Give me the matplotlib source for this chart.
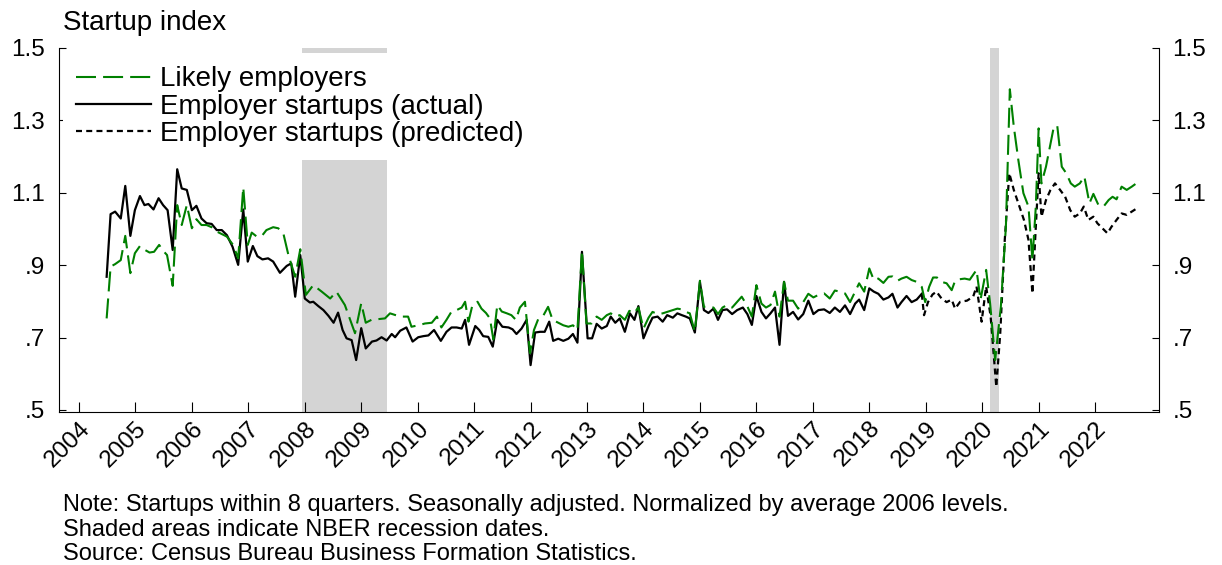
import matplotlib
matplotlib.use('Agg')
import matplotlib.pyplot as plt

plt.rcParams['font.family'] = ['Liberation Sans', 'DejaVu Sans']

# ---------------- data ----------------
likely_years = [
    2004.49, 2004.56, 2004.64, 2004.74, 2004.82, 2004.91, 2004.99, 2005.08, 2005.17, 2005.25,
    2005.33, 2005.42, 2005.49, 2005.56, 2005.66, 2005.74, 2005.82, 2005.91, 2006.00, 2006.08,
    2006.17, 2006.26, 2006.35, 2006.44, 2006.53, 2006.62, 2006.73, 2006.82, 2006.91, 2006.99,
    2007.06, 2007.15, 2007.24, 2007.32, 2007.44, 2007.53, 2007.62, 2007.71, 2007.83, 2007.92,
    2008.02, 2008.15, 2008.30, 2008.45, 2008.56, 2008.71, 2008.89, 2009.00, 2009.08, 2009.18,
    2009.42, 2009.51, 2009.69, 2009.83, 2009.89, 2010.01, 2010.13, 2010.25, 2010.34, 2010.42,
    2010.51, 2010.60, 2010.69, 2010.78, 2010.84, 2010.90, 2010.97, 2011.06, 2011.13, 2011.21,
    2011.28, 2011.34, 2011.41, 2011.49, 2011.58, 2011.66, 2011.74, 2011.81, 2011.90, 2011.99,
    2012.06, 2012.14, 2012.23, 2012.31, 2012.39, 2012.49, 2012.58, 2012.67, 2012.75, 2012.83,
    2012.91, 2012.99, 2013.08, 2013.17, 2013.26, 2013.35, 2013.42, 2013.50, 2013.58, 2013.67,
    2013.75, 2013.83, 2013.91, 2014.00, 2014.09, 2014.16, 2014.25, 2014.34, 2014.42, 2014.52,
    2014.60, 2014.68, 2014.75, 2014.82, 2014.91, 2015.00, 2015.07, 2015.15, 2015.24, 2015.32,
    2015.40, 2015.48, 2015.57, 2015.66, 2015.74, 2015.83, 2015.92, 2016.00, 2016.09, 2016.17,
    2016.25, 2016.33, 2016.41, 2016.49, 2016.56, 2016.65, 2016.74, 2016.83, 2016.92, 2017.01,
    2017.10, 2017.20, 2017.30, 2017.39, 2017.48, 2017.57, 2017.66, 2017.75, 2017.82, 2017.91,
    2018.00, 2018.08, 2018.16, 2018.25, 2018.34, 2018.41, 2018.50, 2018.57, 2018.66, 2018.75,
    2018.84, 2018.93, 2018.99, 2019.06, 2019.13, 2019.20, 2019.28, 2019.37, 2019.46, 2019.52,
    2019.59, 2019.69, 2019.78, 2019.90, 2019.97, 2020.07, 2020.14, 2020.23, 2020.33, 2020.42,
    2020.49, 2020.56, 2020.64, 2020.73, 2020.82, 2020.89, 2020.95, 2021.00, 2021.05, 2021.13,
    2021.20, 2021.27, 2021.33, 2021.41, 2021.49, 2021.57, 2021.64, 2021.73, 2021.81, 2021.90,
    2021.97, 2022.06, 2022.15, 2022.24, 2022.31, 2022.38, 2022.47, 2022.56, 2022.65, 2022.73,
]
likely_vals = [
    0.753, 0.896, 0.903, 0.914, 0.981, 0.878, 0.933, 0.953, 0.942, 0.935,
    0.937, 0.956, 0.940, 0.928, 0.843, 1.066, 1.011, 1.066, 1.002, 1.027,
    1.011, 1.011, 1.005, 0.993, 0.986, 0.979, 0.956, 0.919, 1.115, 0.956,
    0.990, 0.979, 0.981, 0.997, 1.005, 1.002, 0.988, 0.928, 0.868, 0.944,
    0.818, 0.845, 0.827, 0.808, 0.827, 0.790, 0.712, 0.795, 0.741, 0.749,
    0.753, 0.767, 0.758, 0.758, 0.730, 0.734, 0.739, 0.741, 0.758, 0.728,
    0.749, 0.772, 0.776, 0.783, 0.799, 0.744, 0.790, 0.799, 0.780, 0.768,
    0.753, 0.695, 0.790, 0.772, 0.767, 0.762, 0.749, 0.783, 0.799, 0.657,
    0.721, 0.753, 0.762, 0.785, 0.749, 0.741, 0.734, 0.730, 0.734, 0.721,
    0.940, 0.739, 0.739, 0.758, 0.749, 0.762, 0.767, 0.758, 0.762, 0.749,
    0.774, 0.767, 0.783, 0.725, 0.755, 0.771, 0.765, 0.767, 0.771, 0.776,
    0.780, 0.778, 0.771, 0.767, 0.716, 0.857, 0.785, 0.785, 0.783, 0.765,
    0.783, 0.790, 0.783, 0.799, 0.813, 0.790, 0.758, 0.845, 0.794, 0.783,
    0.790, 0.827, 0.758, 0.854, 0.802, 0.802, 0.780, 0.798, 0.821, 0.811,
    0.818, 0.822, 0.808, 0.830, 0.827, 0.822, 0.798, 0.827, 0.850, 0.827,
    0.891, 0.859, 0.863, 0.851, 0.868, 0.869, 0.857, 0.863, 0.868, 0.859,
    0.854, 0.840, 0.798, 0.840, 0.866, 0.866, 0.854, 0.850, 0.831, 0.857,
    0.861, 0.863, 0.860, 0.887, 0.804, 0.887, 0.795, 0.638, 0.785, 1.006,
    1.386, 1.283, 1.191, 1.099, 1.062, 0.914, 1.062, 1.278, 1.126, 1.172,
    1.227, 1.283, 1.285, 1.172, 1.154, 1.126, 1.117, 1.126, 1.145, 1.071,
    1.097, 1.066, 1.062, 1.080, 1.089, 1.082, 1.117, 1.108, 1.117, 1.126,
]

actual_years = [
    2004.49, 2004.56, 2004.64, 2004.74, 2004.82, 2004.91, 2004.99, 2005.08, 2005.16, 2005.23,
    2005.32, 2005.41, 2005.49, 2005.57, 2005.66, 2005.74, 2005.82, 2005.91, 2006.00, 2006.08,
    2006.17, 2006.26, 2006.35, 2006.44, 2006.53, 2006.62, 2006.72, 2006.82, 2006.91, 2006.99,
    2007.08, 2007.16, 2007.25, 2007.35, 2007.44, 2007.56, 2007.68, 2007.76, 2007.83, 2007.92,
    2008.00, 2008.09, 2008.15, 2008.24, 2008.33, 2008.42, 2008.51, 2008.59, 2008.67, 2008.74,
    2008.83, 2008.91, 2009.00, 2009.08, 2009.19, 2009.27, 2009.36, 2009.45, 2009.54, 2009.60,
    2009.69, 2009.80, 2009.91, 2010.01, 2010.10, 2010.19, 2010.29, 2010.41, 2010.51, 2010.60,
    2010.69, 2010.78, 2010.84, 2010.91, 2011.02, 2011.09, 2011.16, 2011.25, 2011.33, 2011.41,
    2011.50, 2011.61, 2011.68, 2011.75, 2011.84, 2011.93, 2012.00, 2012.08, 2012.17, 2012.25,
    2012.33, 2012.40, 2012.49, 2012.58, 2012.67, 2012.75, 2012.83, 2012.91, 2013.01, 2013.09,
    2013.17, 2013.26, 2013.35, 2013.42, 2013.50, 2013.58, 2013.67, 2013.76, 2013.84, 2013.91,
    2014.00, 2014.09, 2014.16, 2014.25, 2014.34, 2014.42, 2014.52, 2014.60, 2014.68, 2014.75,
    2014.82, 2014.91, 2015.00, 2015.07, 2015.15, 2015.24, 2015.32, 2015.40, 2015.48, 2015.57,
    2015.66, 2015.76, 2015.84, 2015.92, 2016.00, 2016.09, 2016.17, 2016.25, 2016.33, 2016.41,
    2016.49, 2016.56, 2016.65, 2016.74, 2016.83, 2016.92, 2017.01, 2017.10, 2017.20, 2017.30,
    2017.39, 2017.48, 2017.57, 2017.66, 2017.75, 2017.82, 2017.91, 2018.00, 2018.08, 2018.16,
    2018.25, 2018.34, 2018.41, 2018.50, 2018.57, 2018.66, 2018.75, 2018.84, 2018.93,
]
actual_vals = [
    0.868, 1.041, 1.048, 1.029, 1.119, 0.981, 1.052, 1.091, 1.066, 1.069,
    1.054, 1.085, 1.066, 1.052, 0.942, 1.165, 1.112, 1.108, 1.052, 1.064,
    1.029, 1.016, 1.014, 0.997, 0.997, 0.983, 0.951, 0.901, 1.054, 0.910,
    0.953, 0.925, 0.916, 0.919, 0.910, 0.879, 0.898, 0.905, 0.813, 0.928,
    0.808, 0.797, 0.799, 0.787, 0.776, 0.760, 0.741, 0.769, 0.721, 0.698,
    0.693, 0.638, 0.726, 0.670, 0.689, 0.692, 0.701, 0.692, 0.710, 0.701,
    0.719, 0.728, 0.689, 0.701, 0.704, 0.706, 0.721, 0.691, 0.716, 0.728,
    0.728, 0.725, 0.749, 0.680, 0.732, 0.721, 0.704, 0.702, 0.675, 0.749,
    0.730, 0.728, 0.723, 0.710, 0.725, 0.749, 0.624, 0.714, 0.716, 0.716,
    0.744, 0.691, 0.697, 0.691, 0.697, 0.710, 0.686, 0.937, 0.698, 0.698,
    0.738, 0.725, 0.732, 0.758, 0.741, 0.753, 0.716, 0.767, 0.749, 0.787,
    0.698, 0.732, 0.755, 0.758, 0.744, 0.762, 0.755, 0.767, 0.762, 0.758,
    0.753, 0.714, 0.854, 0.776, 0.768, 0.780, 0.749, 0.776, 0.778, 0.765,
    0.776, 0.783, 0.765, 0.735, 0.815, 0.771, 0.753, 0.767, 0.783, 0.680,
    0.854, 0.760, 0.771, 0.750, 0.765, 0.802, 0.765, 0.776, 0.778, 0.768,
    0.783, 0.771, 0.789, 0.765, 0.794, 0.805, 0.776, 0.836, 0.827, 0.821,
    0.805, 0.811, 0.821, 0.783, 0.798, 0.815, 0.798, 0.805, 0.821,
]

pred_years = [
    2018.93, 2018.97, 2019.04, 2019.12, 2019.19, 2019.28, 2019.37, 2019.46, 2019.52, 2019.61,
    2019.73, 2019.84, 2019.90, 2019.99, 2020.07, 2020.15, 2020.25, 2020.32, 2020.40, 2020.48,
    2020.56, 2020.66, 2020.74, 2020.82, 2020.89, 2020.95, 2021.00, 2021.05, 2021.13, 2021.21,
    2021.29, 2021.38, 2021.47, 2021.56, 2021.64, 2021.73, 2021.80, 2021.88, 2021.97, 2022.04,
    2022.13, 2022.22, 2022.29, 2022.38, 2022.47, 2022.56, 2022.65, 2022.74,
]
pred_vals = [
    0.821, 0.762, 0.798, 0.819, 0.827, 0.808, 0.798, 0.805, 0.780, 0.799,
    0.802, 0.813, 0.841, 0.744, 0.841, 0.758, 0.564, 0.712, 0.970, 1.154,
    1.108, 1.062, 1.025, 0.970, 0.822, 1.006, 1.154, 1.034, 1.080, 1.108,
    1.126, 1.108, 1.089, 1.052, 1.034, 1.043, 1.062, 1.025, 1.034, 1.016,
    1.002, 0.988, 1.006, 1.025, 1.043, 1.039, 1.048, 1.057,
]

recession_starts = [2007.95, 2020.13]
recession_ends = [2009.46, 2020.30]

year_ticks = list(range(2004, 2023))
year_labels = [str(y) for y in year_ticks]
y_ticks = [0.5, 0.7, 0.9, 1.1, 1.3, 1.5]
y_labels = ['.5', '.7', '.9', '1.1', '1.3', '1.5']

series_labels = ['Likely employers', 'Employer startups (actual)',
                 'Employer startups (predicted)']
note_lines = [
    'Note: Startups within 8 quarters. Seasonally adjusted. Normalized by average 2006 levels.',
    'Shaded areas indicate NBER recession dates.',
    'Source: Census Bureau Business Formation Statistics.',
]

# ---------------- figure ----------------
W, H = 1222, 565
fig = plt.figure(figsize=(W / 100, H / 100), dpi=100)
ax = fig.add_axes([59 / W, 1 - 411.7 / H, (1158.7 - 59) / W, (411.7 - 48) / H])

for s, e in zip(recession_starts, recession_ends):
    ax.axvspan(s, e, color='#d4d4d4', lw=0, zorder=0)

green = '#008000'
l_act, = ax.plot(actual_years, actual_vals, color='black', lw=1.6,
                 label=series_labels[1], zorder=3)
l_pred, = ax.plot(pred_years, pred_vals, color='black', lw=1.6,
                  linestyle=(0, (2.7, 1.9)), label=series_labels[2], zorder=3)
l_lik, = ax.plot(likely_years, likely_vals, color=green, lw=1.5,
                 linestyle=(0, (9.6, 3.4)), label=series_labels[0], zorder=4)

ax.set_xlim(2003.646, 2023.127)
ax.set_ylim(0.4953, 1.5)

ax.spines['top'].set_visible(False)
for sp in ['left', 'right', 'bottom']:
    ax.spines[sp].set_linewidth(0.8)

ax.set_xticks(year_ticks)
ax.set_xticklabels(year_labels, rotation=45, ha='right', va='top',
                   rotation_mode='anchor')
ax.tick_params(axis='x', direction='in', length=7, width=0.8,
               labelsize=17.5, pad=4)

ax.set_yticks(y_ticks)
ax.set_yticklabels(y_labels)
ax.tick_params(axis='y', direction='in', length=5, width=0.8,
               labelsize=17.5, pad=10, left=True, right=True,
               labelleft=True, labelright=True)

leg = ax.legend(handles=[l_lik, l_act, l_pred], loc='upper left',
                bbox_to_anchor=(63 / W, 1 - 53 / H),
                bbox_transform=fig.transFigure, borderaxespad=0,
                borderpad=0.48, fontsize=20, handlelength=2.7,
                handletextpad=0.32, labelspacing=0.05, frameon=True,
                facecolor='white', edgecolor='none', framealpha=1,
                fancybox=False)
leg.set_zorder(5)

fig.text(63 / W, 1 - 29.5 / H, 'Startup index', fontsize=20,
         ha='left', va='baseline')

for i, line in enumerate(note_lines):
    fig.text(63 / W, 1 - (510.5 + 25 * i) / H, line, fontsize=17,
             ha='left', va='baseline')

fig.savefig('out.png', dpi=100)
